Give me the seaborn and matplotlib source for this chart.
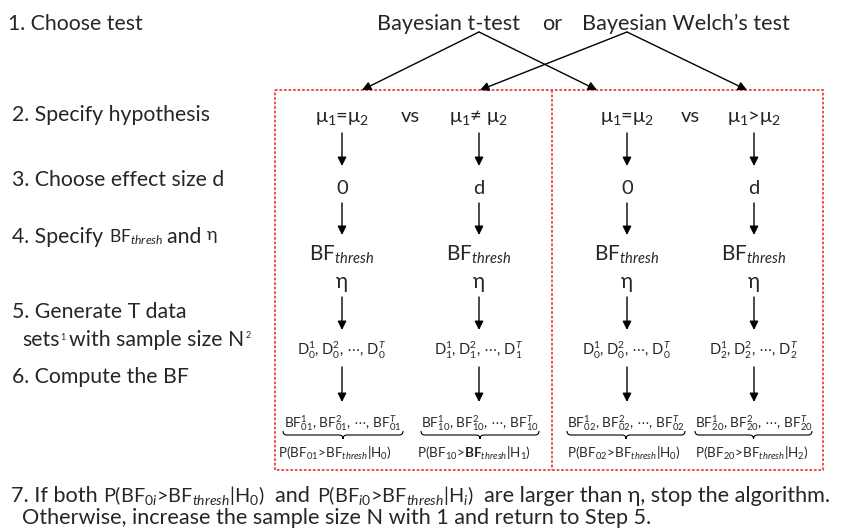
import matplotlib
matplotlib.use("Agg")
import matplotlib.pyplot as plt
from matplotlib.path import Path
from matplotlib.patches import PathPatch, Rectangle
import seaborn as sns

## Texts of the flow chart
step_labels = ["1. Choose test", "2. Specify hypothesis", "3. Choose effect size d",
               "5. Generate T data", "6. Compute the BF"]
step_x = [8, 12, 12, 12, 12]
step_y = [22, 113, 178, 310, 375]

tests = ["Bayesian t-test", "or", "Bayesian Welch\u2019s test"]
test_x = [377, 542, 582]

# columns inside the red boxes
col_x = [342, 479, 627, 754]
vs_x = [410, 690]
hypotheses = ["\u03bc$_{1}$=\u03bc$_{2}$", "\u03bc$_{1}$\u2260 \u03bc$_{2}$",
              "\u03bc$_{1}$=\u03bc$_{2}$", "\u03bc$_{1}$>\u03bc$_{2}$"]
effects = ["0", "d", "0", "d"]
data_sub = ["0", "1", "0", "2"]
bf_sub = ["01", "10", "02", "20"]
h_sub = ["0", "1", "0", "2"]
p_x = [278, 417, 567, 695]
brace_x = [(283, 403), (421, 539), (567, 685), (695, 812)]

# which column each test points to
test_origin = [(479, 32), (627, 32)]
test_targets = [[362, 597], [480, 747]]

sns.set_theme(style="white")
plt.rcParams["font.family"] = ["Lato", "DejaVu Sans"]
plt.rcParams["mathtext.fontset"] = "custom"
plt.rcParams["mathtext.rm"] = "Lato"
plt.rcParams["mathtext.it"] = "Lato:italic"
plt.rcParams["mathtext.bf"] = "Lato:bold"

fig = plt.figure(figsize=(8.45, 5.31), dpi=100)
ax = fig.add_axes([0, 0, 1, 1])
ax.set_xlim(0, 845)
ax.set_ylim(531, 0)
ax.axis("off")
renderer = fig.canvas.get_renderer()

STEP = 15.3


def base(yc, size):
    # baseline from visual centre of the letters
    return yc + 0.36 * size / 0.72


def put(x, yc, txt, size, ha="left", **kw):
    return ax.text(x, base(yc, size), txt, fontsize=size, ha=ha, va="baseline", **kw)


def put_parts(x, yc, parts, ref=STEP):
    # pieces of different size on one baseline; dy lifts a piece (superscripts)
    for txt, size, gap, dy in parts:
        t = ax.text(x, base(yc, ref) - dy, txt, fontsize=size, ha="left", va="baseline")
        x += t.get_window_extent(renderer).width + gap


def arrow(x0, y0, x1, y1):
    ax.annotate("", xy=(x1, y1), xytext=(x0, y0),
                arrowprops=dict(arrowstyle="-|>", color="black", lw=1.0,
                                mutation_scale=13, shrinkA=0, shrinkB=0))


def brace(x0, x1, y, h=8):
    xm = (x0 + x1) / 2
    m = y + h / 2
    verts = [(x0, y), (x0, m), (x0 + h / 2, m), (xm - h / 2, m), (xm, m), (xm, y + h),
             (xm, m), (xm + h / 2, m), (x1 - h / 2, m), (x1, m), (x1, y)]
    codes = [Path.MOVETO, Path.CURVE3, Path.CURVE3, Path.LINETO, Path.CURVE3, Path.CURVE3,
             Path.CURVE3, Path.CURVE3, Path.LINETO, Path.CURVE3, Path.CURVE3]
    ax.add_patch(PathPatch(Path(verts, codes), fill=False, lw=0.8, color="black"))


## Left column steps
for lab, x, y in zip(step_labels, step_x, step_y):
    put(x, y, lab, STEP)
put_parts(12, 235, [("4. Specify ", STEP, 0, 0), ("BF$_{\\mathit{thresh}}$", 12.5, 4, 0),
                    ("and ", STEP, 0, 0), ("\u03b7", 13, 0, 3)])
put_parts(22, 338, [("sets", STEP, 1, 0), ("1", 6.5, 3, 6),
                    ("with sample size N", STEP, 2, 0), ("2", 6.5, 0, 8)])

## Tests and arrows to the hypotheses
for t, x in zip(tests, test_x):
    put(x, 22, t, 15.6)
for (ox, oy), targets in zip(test_origin, test_targets):
    for tx in targets:
        arrow(ox, oy, tx, 90)

## Red dotted boxes
red = "#e8453c"
ax.add_patch(Rectangle((275, 90), 548, 380, fill=False, ec=red, lw=1.3, ls=(0, (1.5, 1))))
ax.plot([552, 552], [90, 470], color=red, lw=1.3, ls=(0, (1.5, 1)))

## Columns
for x in vs_x:
    put(x, 115, "vs", 14.5, ha="center")
for i, x in enumerate(col_x):
    put(x, 115, hypotheses[i], 14.5, ha="center")
    arrow(x, 133, x, 166)
    put(x, 187, effects[i], 14.5, ha="center")
    arrow(x, 203, x, 235)
    put(x, 253, "BF$_{\\mathit{thresh}}$", 15, ha="center")
    put(x, 280, "\u03b7", 15, ha="center")
    arrow(x, 297, x, 330)
    s = data_sub[i]
    put(x, 350, f"D$_{{{s}}}^{{1}}$, D$_{{{s}}}^{{2}}$, $\\cdots$, D$_{{{s}}}^{{T}}$", 10.5, ha="center")
    arrow(x, 367, x, 402)
    b = bf_sub[i]
    x0, x1 = brace_x[i]
    put((x0 + x1) / 2, 423, f"BF$_{{{b}}}^{{1}}$, BF$_{{{b}}}^{{2}}$, $\\cdots$, BF$_{{{b}}}^{{T}}$",
        9.8, ha="center")
    brace(x0, x1, 431)
    bf = "$\\mathbf{BF}$" if i == 1 else "BF"
    put(p_x[i], 453, f"P(BF$_{{{b}}}$>{bf}$_{{\\mathit{{thresh}}}}$|H$_{{{h_sub[i]}}}$)", 9.7)

## Stopping rule
put_parts(11, 494, [("7. If both ", 15.6, 0, 0),
                    ("P(BF$_{0i}$>BF$_{\\mathit{thresh}}$|H$_{0}$)", 14.3, 10, 0),
                    ("and ", 15.6, 2, 0),
                    ("P(BF$_{i0}$>BF$_{\\mathit{thresh}}$|H$_{i}$)", 14.3, 10, 0),
                    ("are larger than \u03b7, stop the algorithm.", 15.6, 0, 0)], ref=15.6)
put(22, 516.5, "Otherwise, increase the sample size N with 1 and return to Step 5.", 15.6)

plt.savefig("out.png", dpi=100)
